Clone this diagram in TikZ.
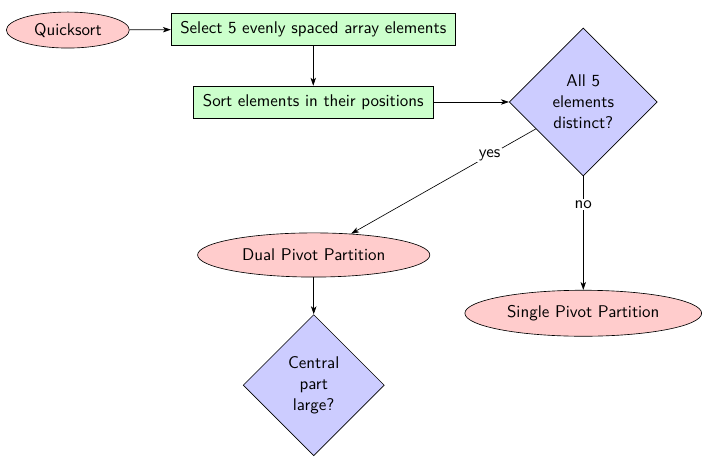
\documentclass[tikz,border=0pt]{standalone}
\usetikzlibrary{shapes.geometric, arrows.meta}
\begin{document}
\begin{tikzpicture}[font=\sffamily\fontsize{10.6}{13}\selectfont, >={Stealth[length=5pt, width=3.4pt, inset=1.4pt]}, line join=miter,
	startstop/.style={ellipse, draw, fill=red!20},
	process/.style={rectangle, draw, fill=green!20, minimum height=0.7cm},
	decision/.style={diamond, draw, fill=blue!20, text width=4em, align=center, inner sep=0pt, minimum size=3.1cm},
	lbl/.style={fill=white, inner sep=1pt}]
	\useasboundingbox (0, 0) rectangle (15.44, -10.02);
	
	% Bắt đầu
	\node[startstop, minimum width=2.7cm, minimum height=0.79cm] (quick) at (1.49, -0.66) {Quicksort};
	\node[process, minimum width=6.24cm] (select) at (6.88, -0.64) {Select 5 evenly spaced array elements};
	\node[process, minimum width=5.27cm] (sort) at (6.88, -2.24) {Sort elements in their positions};
	
	% Kiểm tra
	\node[decision, minimum size=3.25cm] (distinct) at (12.81, -2.24) {All 5 elements distinct?};
	\node[startstop, minimum width=5.2cm, minimum height=1.01cm] (single) at (12.81, -6.88) {Single Pivot Partition};
	\node[startstop, minimum width=5.1cm, minimum height=0.97cm] (dual) at (6.89, -5.60) {Dual Pivot Partition};
	\node[decision] (central) at (6.89, -8.46) {Central part large?};
	
	% Mũi tên
	\draw[->] (quick) -- (select);
	\draw[->] (select) -- (sort);
	\draw[->] (sort) -- (distinct);
	\draw[->] (distinct) -- node[lbl, near start] {yes} (dual);
	\draw[->] (distinct) -- node[lbl, near start] {no} (single);
	\draw[->] (dual) -- (central);
\end{tikzpicture}
\end{document}
